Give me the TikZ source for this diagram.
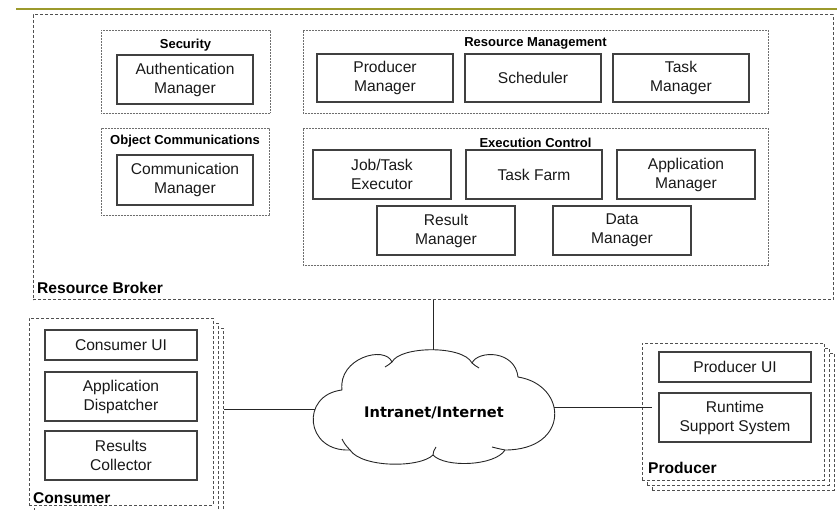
\documentclass[tikz,border=0pt]{standalone}
\usepackage{fontspec}
\setmainfont{Liberation Sans}
\newfontfamily\cloudfont{DejaVu Sans}

\definecolor{rule}{RGB}{156,154,44}
\definecolor{edge}{RGB}{64,64,64}
\definecolor{dashgray}{RGB}{80,80,80}
\definecolor{dotgray}{RGB}{110,110,110}

\begin{document}
\begin{tikzpicture}[x=1pt,y=-1pt,
  comp/.style={draw=edge, line width=1.1pt, align=center, inner sep=0pt,
    font=\fontsize{15.6}{19}\selectfont, text=black!90},
  group/.style={draw=dotgray, line width=0.8pt, dash pattern=on 0.8pt off 0.7pt, inner sep=0pt},
  site/.style={draw=dashgray, line width=1pt, dash pattern=on 3pt off 2pt, inner sep=0pt, fill=white},
  grouptitle/.style={font=\bfseries\fontsize{13}{15}\selectfont, inner sep=0pt},
  sitetitle/.style={font=\bfseries\fontsize{15.6}{18}\selectfont, inner sep=0pt, anchor=west},
  cloudline/.style={draw=black!85, line width=0.9pt, line join=round},
  link/.style={draw=black!85, line width=0.9pt}]
\useasboundingbox (0,0) rectangle (837,510);

% header rule
\draw[rule, line width=2.2pt] (16,9) -- (837,9);

% resource broker
\node[site, fill=none, minimum width=800pt, minimum height=285pt] (broker) at (433,157.5) {};
\node[sitetitle] (brokertitle) at (37,288) {Resource Broker};

% security
\node[group, minimum width=169pt, minimum height=83pt] (sec) at (185.5,71.5) {};
\node[grouptitle] (sectitle) at (185.5,45) {Security};
\node[comp, minimum width=136pt, minimum height=49pt] (auth) at (185,79.5) {Authentication\\Manager};

% object communications
\node[group, minimum width=168pt, minimum height=87pt] (objc) at (185,171.5) {};
\node[grouptitle] (objctitle) at (185,141) {Object Communications};
\node[comp, minimum width=136pt, minimum height=50pt] (comm) at (185,180) {Communication\\Manager};

% resource management
\node[group, minimum width=465pt, minimum height=83pt] (resm) at (535.5,71.5) {};
\node[grouptitle] (resmtitle) at (535.5,43) {Resource Management};
\node[comp, minimum width=136pt, minimum height=48pt] (prodm) at (385,78) {Producer\\Manager};
\node[comp, minimum width=136pt, minimum height=48pt] (sched) at (533,78) {Scheduler};
\node[comp, minimum width=136pt, minimum height=48pt] (taskm) at (681,78) {Task\\Manager};

% execution control
\node[group, minimum width=465pt, minimum height=137pt] (exec) at (535.5,196.5) {};
\node[grouptitle] (exectitle) at (535.5,143) {Execution Control};
\node[comp, minimum width=138pt, minimum height=49pt] (jte) at (382,174.5) {Job/Task\\Executor};
\node[comp, minimum width=136pt, minimum height=49pt] (farm) at (534,174.5) {Task Farm};
\node[comp, minimum width=138pt, minimum height=49pt] (appm) at (686,174.5) {Application\\Manager};
\node[comp, minimum width=138pt, minimum height=49pt] (resultm) at (446,230.5) {Result\\Manager};
\node[comp, minimum width=138pt, minimum height=49pt] (datam) at (622,230.5) {Data\\Manager};

% consumer stack
\node[site, minimum width=184pt, minimum height=187pt] (cons3) at (131,421.5) {};
\node[site, minimum width=184pt, minimum height=187pt] (cons2) at (126,416.5) {};
\node[site, minimum width=184pt, minimum height=187pt] (cons) at (121,411.5) {};
\node[comp, minimum width=152pt, minimum height=30pt] (cui) at (121,345) {Consumer UI};
\node[comp, minimum width=152pt, minimum height=49pt] (adisp) at (121,396.5) {Application\\Dispatcher};
\node[comp, minimum width=152pt, minimum height=49pt] (rcoll) at (121,455.5) {Results\\Collector};
\node[sitetitle] (constitle) at (33,498) {Consumer};

% producer stack
\node[site, minimum width=182pt, minimum height=137pt] (prod3) at (743,421.5) {};
\node[site, minimum width=182pt, minimum height=137pt] (prod2) at (738,416.5) {};
\node[site, minimum width=182pt, minimum height=137pt] (prod) at (733,411.5) {};
\node[comp, minimum width=152pt, minimum height=30pt] (pui) at (735,367) {Producer UI};
\node[comp, minimum width=152pt, minimum height=49pt] (rss) at (735,417.5) {Runtime\\Support System};
\node[sitetitle] (prodtitle) at (648,468) {Producer};

% network cloud: seven puffs with small inner curls at the seams
\draw[cloudline]
  (342,390) .. controls (338,358) and (385,345) .. (392,362)
  .. controls (400,346) and (463,345) .. (472,363)
  .. controls (478,350) and (515,350) .. (518,377)
  .. controls (568,385) and (570,450) .. (505,450)
  .. controls (495,466) and (445,468) .. (433,455)
  .. controls (420,468) and (362,468) .. (350,450)
  .. controls (305,452) and (300,395) .. (342,390) -- cycle;
\draw[cloudline] (392,362) .. controls (390,364) and (388,365) .. (385,367);
\draw[cloudline] (472,363) .. controls (474,365) and (476,366) .. (479,368);
\draw[cloudline] (350,450) .. controls (346,446) and (344,443) .. (342,439);
\draw[cloudline] (505,450) .. controls (500,449) and (496,448) .. (492,447);
\draw[cloudline] (433,455) .. controls (433,452) and (434,450) .. (436,447);
\node[font=\cloudfont\bfseries\fontsize{14.6}{17}\selectfont, inner sep=0pt] (net) at (434,413) {Intranet/Internet};
\coordinate (nettop) at (433,349.8);
\coordinate (netleft) at (315,409);
\coordinate (netright) at (553.5,407.5);

% connections
\draw[link] (broker.south) -- (nettop);
\draw[link] (netleft) -- (netleft -| cons3.east);
\draw[link] (netright) -- (netright -| prod3.west);
\end{tikzpicture}
\end{document}
